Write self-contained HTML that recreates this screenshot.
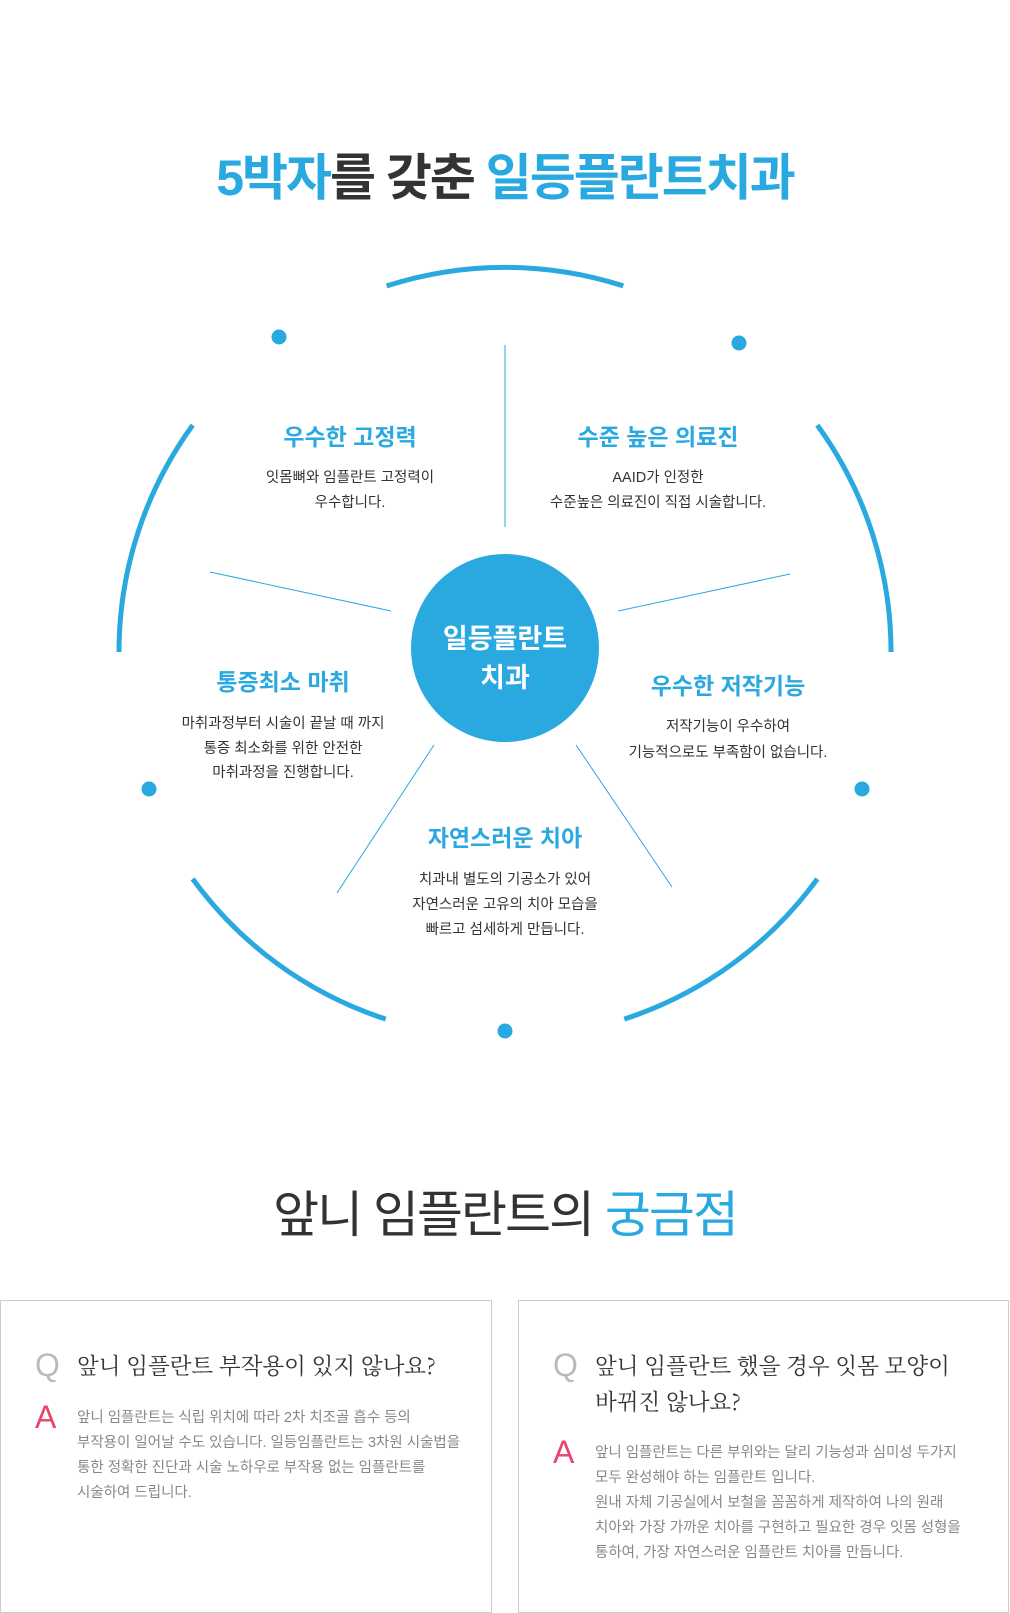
<!DOCTYPE html>
<html><head><meta charset="utf-8"><style>
html,body{margin:0;padding:0;background:#fff;}
svg{display:block;}
text{font-family:"Liberation Sans","Noto Sans CJK KR",sans-serif;}
.h{fill:#29a9e0;font-size:23px;font-weight:700;text-anchor:middle;}
.b{fill:#333;font-size:14.5px;text-anchor:middle;}
.q{fill:#333;font-size:22.5px;font-family:"Noto Serif CJK SC","Liberation Serif",serif;}
.a{fill:#888;font-size:14.5px;}
</style></head><body>
<svg width="1010" height="1613" viewBox="0 0 1010 1613" xmlns="http://www.w3.org/2000/svg">
<text x="505" y="195" text-anchor="middle" font-size="50" font-weight="700" letter-spacing="-2"><tspan fill="#29a9e0">5박자</tspan><tspan fill="#333">를 갖춘 </tspan><tspan fill="#29a9e0">일등플란트치과</tspan></text>
<g fill="none" stroke="#29a9e0" stroke-width="5">
<path d="M386.7 285.9 A386 386 0 0 1 623.3 285.9"/>
<path d="M817.3 425.1 A386 386 0 0 1 891 652"/>
<path d="M817.3 878.9 A386 386 0 0 1 624.3 1019.1"/>
<path d="M385.7 1019.1 A386 386 0 0 1 192.7 878.9"/>
<path d="M119 652 A386 386 0 0 1 192.7 425.1"/>
</g>
<g fill="#29a9e0">
<circle cx="279" cy="337" r="7.5"/><circle cx="739" cy="343" r="7.5"/>
<circle cx="149" cy="789" r="7.5"/><circle cx="862" cy="789" r="7.5"/>
<circle cx="505" cy="1031" r="7.5"/>
</g>
<g stroke="#29a9e0" stroke-width="1">
<line x1="505" y1="345" x2="505" y2="527"/>
<line x1="210" y1="572" x2="391" y2="611"/>
<line x1="618" y1="611" x2="790" y2="574"/>
<line x1="434" y1="745" x2="337" y2="893"/>
<line x1="576" y1="745" x2="672" y2="887"/>
</g>
<circle cx="505" cy="648" r="94" fill="#29a9e0"/>
<text x="505" y="648" text-anchor="middle" fill="#fff" font-size="27" font-weight="700">일등플란트</text>
<text x="505" y="687" text-anchor="middle" fill="#fff" font-size="27" font-weight="700">치과</text>

<text class="h" x="350" y="445">우수한 고정력</text>
<text class="b" x="350" y="482">잇몸뼈와 임플란트 고정력이</text>
<text class="b" x="350" y="507">우수합니다.</text>

<text class="h" x="658" y="445">수준 높은 의료진</text>
<text class="b" x="658" y="482">AAID가 인정한</text>
<text class="b" x="658" y="507">수준높은 의료진이 직접 시술합니다.</text>

<text class="h" x="283" y="690">통증최소 마취</text>
<text class="b" x="283" y="728">마취과정부터 시술이 끝날 때 까지</text>
<text class="b" x="283" y="753">통증 최소화를 위한 안전한</text>
<text class="b" x="283" y="777">마취과정을 진행합니다.</text>

<text class="h" x="728" y="694">우수한 저작기능</text>
<text class="b" x="728" y="731">저작기능이 우수하여</text>
<text class="b" x="728" y="757">기능적으로도 부족함이 없습니다.</text>

<text class="h" x="505" y="846">자연스러운 치아</text>
<text class="b" x="505" y="884">치과내 별도의 기공소가 있어</text>
<text class="b" x="505" y="909">자연스러운 고유의 치아 모습을</text>
<text class="b" x="505" y="934">빠르고 섬세하게 만듭니다.</text>

<text x="505" y="1232" text-anchor="middle" font-size="50" letter-spacing="-2"><tspan fill="#333">앞니 임플란트의 </tspan><tspan fill="#29a9e0">궁금점</tspan></text>

<rect x="0.5" y="1300.5" width="491" height="312" fill="none" stroke="#ccc"/>
<rect x="518.5" y="1300.5" width="490" height="312" fill="none" stroke="#ccc"/>

<text x="35" y="1376" font-size="32" fill="#bbb">Q</text>
<text class="q" x="77" y="1374">앞니 임플란트 부작용이 있지 않나요?</text>
<text x="35" y="1428" font-size="32" fill="#e8456a">A</text>
<text class="a" x="77" y="1422">앞니 임플란트는 식립 위치에 따라 2차 치조골 흡수 등의</text>
<text class="a" x="77" y="1447">부작용이 일어날 수도 있습니다. 일등임플란트는 3차원 시술법을</text>
<text class="a" x="77" y="1472">통한 정확한 진단과 시술 노하우로 부작용 없는 임플란트를</text>
<text class="a" x="77" y="1497">시술하여 드립니다.</text>

<text x="553" y="1376" font-size="32" fill="#bbb">Q</text>
<text class="q" x="595" y="1374">앞니 임플란트 했을 경우 잇몸 모양이</text>
<text class="q" x="595" y="1410">바뀌진 않나요?</text>
<text x="553" y="1463" font-size="32" fill="#e8456a">A</text>
<text class="a" x="595" y="1457">앞니 임플란트는 다른 부위와는 달리 기능성과 심미성 두가지</text>
<text class="a" x="595" y="1482">모두 완성해야 하는 임플란트 입니다.</text>
<text class="a" x="595" y="1507">원내 자체 기공실에서 보철을 꼼꼼하게 제작하여 나의 원래</text>
<text class="a" x="595" y="1532">치아와 가장 가까운 치아를 구현하고 필요한 경우 잇몸 성형을</text>
<text class="a" x="595" y="1557">통하여, 가장 자연스러운 임플란트 치아를 만듭니다.</text>
</svg>
</body></html>
